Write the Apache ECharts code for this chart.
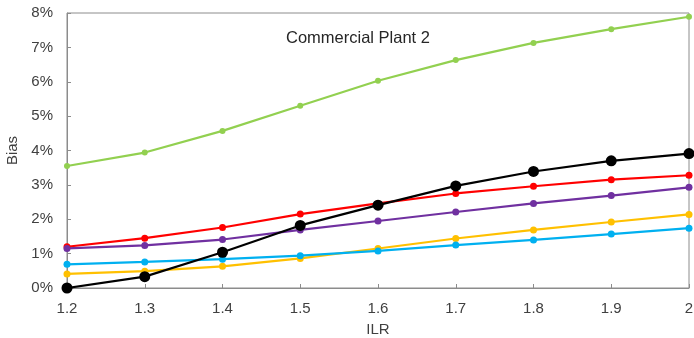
<!DOCTYPE html>
<html>
<head>
<meta charset="utf-8">
<script src="https://cdn.jsdelivr.net/npm/echarts@6/dist/echarts.min.js"></script>
<style>html,body{margin:0;padding:0;background:#fff}#c{width:694px;height:338px}</style>
</head>
<body>
<div id="c"></div>
<script>
const categories = ['1.2','1.3','1.4','1.5','1.6','1.7','1.8','1.9','2'];
const yTicks = [0,1,2,3,4,5,6,7,8];
const green  = [3.55, 3.94, 4.57, 5.30, 6.03, 6.63, 7.13, 7.53, 7.89];
const red    = [1.20, 1.45, 1.76, 2.15, 2.46, 2.75, 2.96, 3.15, 3.28];
const purple = [1.15, 1.24, 1.41, 1.69, 1.95, 2.21, 2.46, 2.69, 2.93];
const yellow = [0.41, 0.49, 0.63, 0.86, 1.15, 1.44, 1.69, 1.92, 2.14];
const blue   = [0.69, 0.76, 0.84, 0.94, 1.08, 1.25, 1.40, 1.57, 1.74];
const black  = [0.00, 0.33, 1.04, 1.82, 2.41, 2.97, 3.39, 3.70, 3.91];
const titleText = 'Commercial Plant 2';

function s(data, color, size) {
  return {type:'line', data, symbol:'circle', symbolSize:size, showSymbol:true,
    lineStyle:{color, width:2.2}, itemStyle:{color}, animation:false};
}
const chart = echarts.init(document.getElementById('c'));
const font = 'Liberation Sans, Arial, sans-serif';
chart.setOption({
  animation:false,
  textStyle:{fontFamily:font},
  title:{text:titleText, left:281, top:25, textStyle:{fontFamily:font, fontSize:16.5, fontWeight:'normal', color:'#262626'}},
  grid:{left:67, right:5, top:13, bottom:50, show:true, borderColor:'#8c8c8c', borderWidth:1, outerBoundsMode:'none'},
  xAxis:{type:'category', data:categories, boundaryGap:false,
    name:'ILR', nameLocation:'middle', nameGap:34, nameTextStyle:{fontFamily:font, fontSize:15, color:'#404040'},
    axisLine:{lineStyle:{color:'#8c8c8c'}}, axisTick:{inside:true, length:4, lineStyle:{color:'#8c8c8c'}},
    axisLabel:{fontFamily:font, fontSize:15, color:'#404040', margin:13}, splitLine:{show:false}},
  yAxis:{type:'value', min:yTicks[0], max:yTicks[yTicks.length-1], interval:1,
    name:'Bias', nameLocation:'middle', nameGap:46, nameTextStyle:{fontFamily:font, fontSize:15, color:'#404040'},
    axisLine:{show:true, lineStyle:{color:'#8c8c8c'}}, axisTick:{show:true, inside:true, length:4, lineStyle:{color:'#8c8c8c'}},
    axisLabel:{fontFamily:font, fontSize:15, color:'#404040', margin:14, formatter:v=>v+'%'}, splitLine:{show:false}},
  series:[
    s(green,'#92D050',6), s(red,'#FF0000',7), s(purple,'#7030A0',7),
    s(yellow,'#FFC000',7), s(blue,'#00B0F0',7), s(black,'#000000',11)
  ]
});
</script>
</body>
</html>
